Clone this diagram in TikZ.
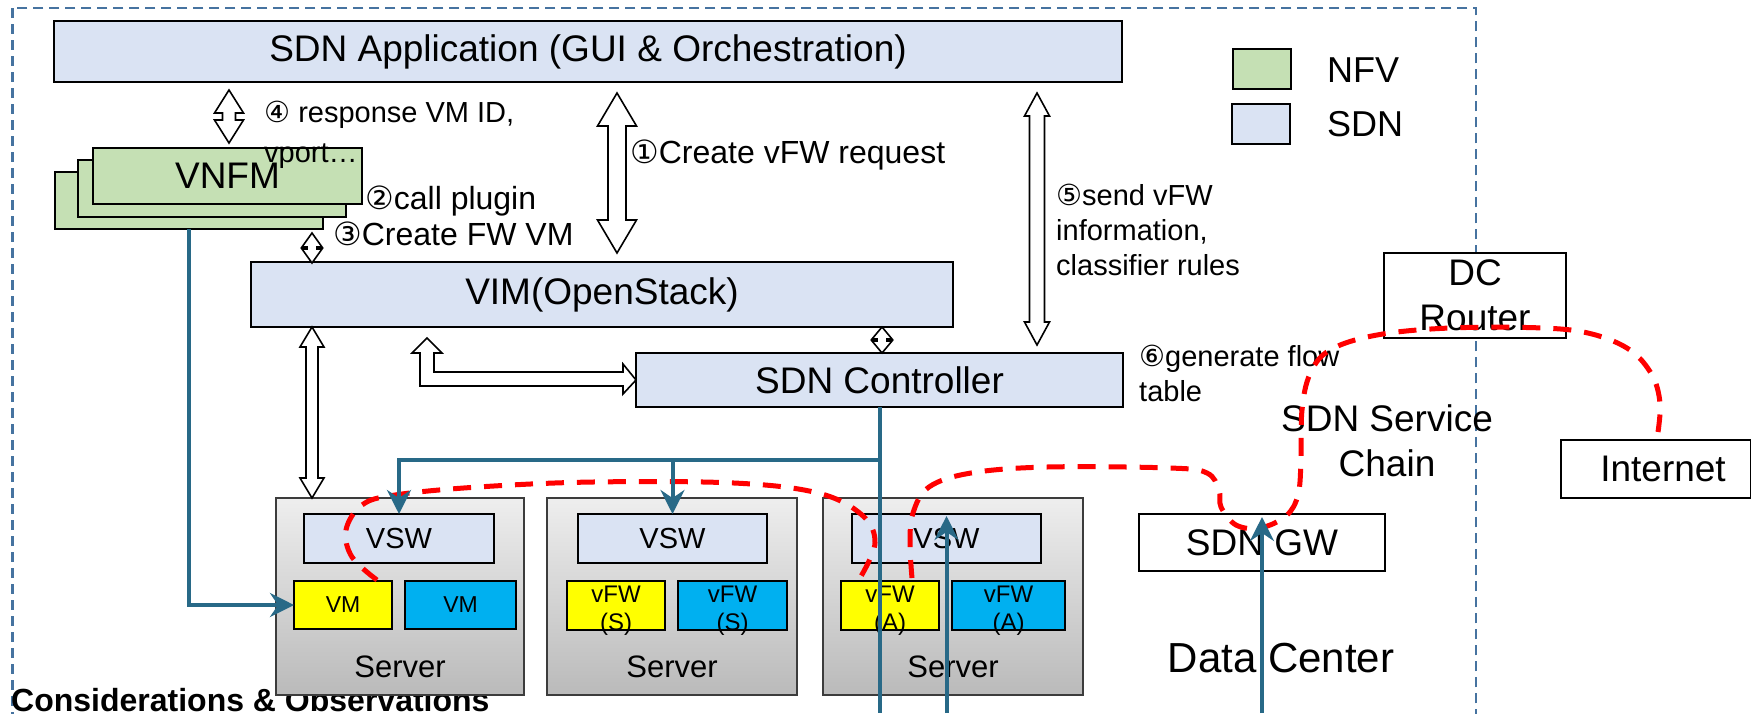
\documentclass[tikz,border=0pt]{standalone}
\usepackage{fontspec}
\setmainfont{Liberation Sans}
\newfontfamily\circfont{DejaVu Sans}
\newcommand\cnum[1]{{\circfont #1}}
\usetikzlibrary{arrows.meta}
\definecolor{sdnblue}{RGB}{218,227,243}
\definecolor{nfvgreen}{RGB}{197,224,180}
\definecolor{vmyellow}{RGB}{255,255,0}
\definecolor{vmcyan}{RGB}{0,176,240}
\definecolor{linkblue}{RGB}{40,105,135}
\definecolor{borderblue}{RGB}{70,115,160}
\definecolor{chainred}{RGB}{255,0,0}
\definecolor{srvtop}{RGB}{238,238,238}
\definecolor{srvbot}{RGB}{186,186,186}
\definecolor{srvline}{RGB}{60,60,60}
\newcommand\VDArrow[6]{\draw[hollow] (#1,#2) -- ({#1+#5},{#2+#6}) -- ({#1+#4},{#2+#6}) -- ({#1+#4},{#3-#6}) -- ({#1+#5},{#3-#6}) -- (#1,#3) -- ({#1-#5},{#3-#6}) -- ({#1-#4},{#3-#6}) -- ({#1-#4},{#2+#6}) -- ({#1-#5},{#2+#6}) -- cycle;}
\tikzset{
  bx/.style={draw=black, line width=2pt, inner sep=0pt, outer sep=0pt, anchor=north west, align=center},
  sdn/.style={bx, fill=sdnblue},
  nfv/.style={bx, fill=nfvgreen},
  plain/.style={bx, fill=white},
  big/.style={font=\fontsize{37}{45}\selectfont},
  mid/.style={font=\fontsize{29}{35}\selectfont},
  small/.style={font=\fontsize{24}{28}\selectfont, text height=49pt, text depth=-3pt},
  ann/.style={font=\fontsize{29}{35}\selectfont, anchor=base west, align=left, inner sep=0pt},
  annbig/.style={ann, font=\fontsize{32}{38}\selectfont},
  server/.style={bx, draw=srvline, top color=srvtop, bottom color=srvbot},
  hollow/.style={draw=black, fill=white, line width=1.6pt, line join=miter},
  link/.style={draw=linkblue, line width=4pt},
  linkarrow/.style={link, -{Stealth[length=24pt, width=24pt, inset=8pt]}},
  chain/.style={draw=chainred, line width=5pt, dash pattern=on 18pt off 13pt},
}
\begin{document}
\begin{tikzpicture}[x=1pt, y=-1pt]
\useasboundingbox (0,0) rectangle (1751,713);
% outer dashed frame
\draw[borderblue, line width=2.5pt, dash pattern=on 10pt off 6pt] (12.6,8) rectangle (1476,760);
% bottom caption (behind servers)
\node[anchor=base west, inner sep=0pt, font=\bfseries\fontsize{32}{38}\selectfont] (cons) at (11,711) {Considerations \& Observations};

% top application
\node[sdn, big, minimum width=1068pt, minimum height=61pt] (app) at (54,21) {SDN Application (GUI \& Orchestration)};

% legend
\node[nfv, minimum width=58pt, minimum height=40pt] (legnfv) at (1233,49) {};
\node[sdn, minimum width=58pt, minimum height=40pt] (legsdn) at (1232,104) {};
\node[anchor=west, inner sep=0pt, font=\fontsize{36}{42}\selectfont] (legnfvt) at (1327,70) {NFV};
\node[anchor=west, inner sep=0pt, font=\fontsize{36}{42}\selectfont] (legsdnt) at (1327,124) {SDN};

% VNFM stack
\node[nfv, minimum width=268pt, minimum height=57pt] (vnfm3) at (55,172) {};
\node[nfv, minimum width=268pt, minimum height=57pt] (vnfm2) at (78,160) {};
\node[nfv, big, minimum width=269pt, minimum height=56pt] (vnfm1) at (93,148) {VNFM};

% VIM and controller
\node[sdn, big, minimum width=702pt, minimum height=65pt] (vim) at (251,262) {VIM(OpenStack)};
\node[sdn, big, minimum width=487pt, minimum height=54pt] (ctrl) at (636,353) {SDN Controller};

% servers
\node[server, minimum width=248pt, minimum height=197pt] (srv1) at (276,498) {};
\node[server, minimum width=250pt, minimum height=197pt] (srv2) at (547,498) {};
\node[server, minimum width=260pt, minimum height=197pt] (srv3) at (823,498) {};
\node[font=\fontsize{31}{36}\selectfont, inner sep=0pt] (srv1t) at (400,667) {Server};
\node[font=\fontsize{31}{36}\selectfont, inner sep=0pt] (srv2t) at (672,667) {Server};
\node[font=\fontsize{31}{36}\selectfont, inner sep=0pt] (srv3t) at (953,667) {Server};

\node[sdn, mid, minimum width=190pt, minimum height=49pt] (vsw1) at (304,514) {VSW};
\node[sdn, mid, minimum width=189pt, minimum height=49pt] (vsw2) at (578,514) {VSW};
\node[sdn, mid, minimum width=189pt, minimum height=49pt] (vsw3) at (852,514) {VSW};

\node[bx, fill=vmyellow, font=\fontsize{23}{27}\selectfont, minimum width=98pt, minimum height=48pt] (vm1) at (294,581) {VM};
\node[bx, fill=vmcyan, font=\fontsize{23}{27}\selectfont, minimum width=111pt, minimum height=48pt] (vm2) at (405,581) {VM};
\node[bx, fill=vmyellow, small, minimum width=98pt, minimum height=48pt] (fws1) at (567,581) {vFW\\(S)};
\node[bx, fill=vmcyan, small, minimum width=109pt, minimum height=48pt] (fws2) at (678,581) {vFW\\(S)};
\node[bx, fill=vmyellow, small, minimum width=98pt, minimum height=48pt] (fwa1) at (841,581) {vFW\\(A)};
\node[bx, fill=vmcyan, small, minimum width=113pt, minimum height=48pt] (fwa2) at (952,581) {vFW\\(A)};

% gateway, router, internet
\node[plain, big, minimum width=246pt, minimum height=57pt] (gw) at (1139,514) {SDN GW};
\node[plain, font=\fontsize{37}{45}\selectfont, minimum width=182pt, minimum height=85pt] (dcr) at (1384,253) {DC\\Router};
\node[plain, big, minimum width=190pt, minimum height=58pt] (inet) at (1561,440) {\hspace*{14pt}Internet};

% free texts
\node[font=\fontsize{37}{45}\selectfont, align=center, inner sep=0pt, anchor=base] (chaint) at (1387,476) {SDN Service\\Chain};
\node[font=\fontsize{42}{48}\selectfont, inner sep=0pt, anchor=base] (dct) at (1281,672) {Data Center};

% hollow double arrows
\VDArrow{229}{90}{143}{6.5}{14.5}{23}
\VDArrow{617}{93}{253}{9}{19.5}{33}
\VDArrow{1037}{93}{345}{7.5}{12.5}{23}
\VDArrow{312}{233}{263}{5}{10}{14}
\VDArrow{882}{327}{353}{5}{10}{12}
\VDArrow{312}{327}{498}{6}{12}{20}
\draw[hollow] (427,338) -- (442,353) -- (434,353) -- (434,372) -- (623,372) -- (623,364) -- (ctrl.west) -- (623,394) -- (623,386) -- (420,386) -- (420,353) -- (412,353) -- cycle;

% annotations
\node[ann, font=\fontsize{29}{40}\selectfont] (l4) at (264,162) {\cnum{④} response VM ID,\\vport…};
\node[annbig] (l2) at (365,209) {\cnum{②}call plugin};
\node[annbig] (l3) at (333,245) {\cnum{③}Create FW VM};
\node[annbig] (l1) at (630,163) {\cnum{①}Create vFW request};
\node[ann] (l5) at (1056,275) {\cnum{⑤}send vFW\\information,\\classifier rules};
\node[ann] (l6) at (1139,401) {\cnum{⑥}generate flow\\table};

% red service chain
\draw[chain] plot[smooth, tension=0.6] coordinates {(377,580) (352,557) (346,530) (362,505) (395,495) (478,487) (593,482) (734,483) (818,493) (862,515) (875,543) (860,578)};
\draw[chain] plot[smooth, tension=0.6] coordinates {(912,578) (910,543) (913,513) (929,487) (971,473) (1047,467) (1170,468) (1207,473) (1219,490) (1221,507) (1236,525) (1260,528) (1286,516) (1298,495) (1301,460) (1302,410) (1310,374) (1330,350) (1377,335) (1450,328) (1543,328) (1592,334) (1630,350) (1652,375) (1660,403) (1658,432)};

% blue control links
\coordinate (bj) at (ctrl.south |- 0,460);
\coordinate (bot3) at (ctrl.south |- 0,713);
\draw[link] (ctrl.south) -- (bot3);
\draw[linkarrow] (bj) -| (vsw1.north);
\draw[linkarrow] (vsw2.north |- bj) -- (vsw2.north);
\draw[linkarrow] (vnfm3.south) |- (vm1.west);
\coordinate (bot4) at (vsw3.north |- 0,713);
\draw[linkarrow] (bot4) -- ([yshift=-2pt]vsw3.north);
\coordinate (bot5) at (gw.north |- 0,713);
\draw[linkarrow] (bot5) -- ([yshift=-3pt]gw.north);
\end{tikzpicture}
\end{document}
